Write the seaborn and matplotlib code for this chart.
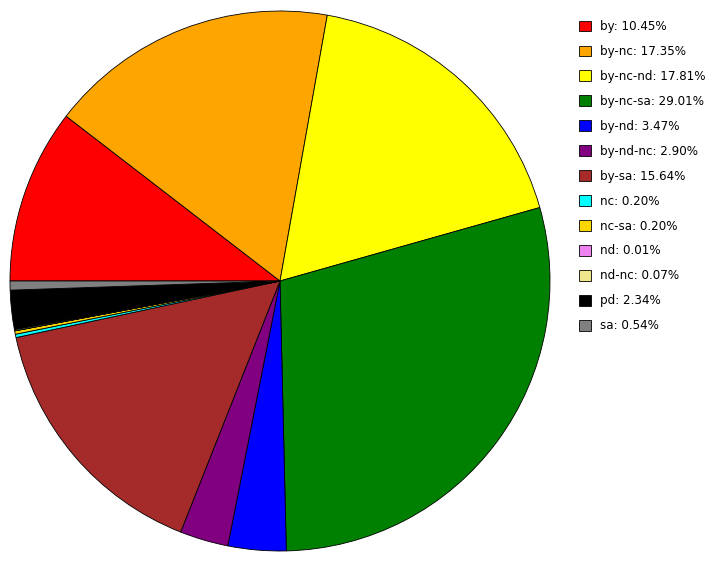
import matplotlib
matplotlib.use("Agg")
import matplotlib.pyplot as plt
from matplotlib.patches import Patch
import seaborn as sns

categories = ["by", "by-nc", "by-nc-nd", "by-nc-sa", "by-nd", "by-nd-nc", "by-sa",
              "nc", "nc-sa", "nd", "nd-nc", "pd", "sa"]
percentages = [10.45, 17.35, 17.81, 29.01, 3.47, 2.90, 15.64,
               0.20, 0.20, 0.01, 0.07, 2.34, 0.54]
colors = ["#FF0000", "#FFA500", "#FFFF00", "#008000", "#0000FF", "#800080", "#A52A2A",
          "#00FFFF", "#FFD700", "#EE82EE", "#F0E68C", "#000000", "#808080"]

sns.set_style("white")
plt.rcParams["font.family"] = ["DejaVu Sans"]
plt.rcParams["text.color"] = "black"

W, H = 716, 562
fig = plt.figure(figsize=(W / 100, H / 100), dpi=100)
cx, cy, r = 280, 281, 270
ax = fig.add_axes([(cx - r) / W, (H - cy - r) / H, 2 * r / W, 2 * r / H])
ax.pie(percentages, colors=colors, startangle=180, counterclock=False,
       wedgeprops=dict(edgecolor="black", linewidth=0.6), radius=1.0)
ax.set_xlim(-1, 1)
ax.set_ylim(-1, 1)
ax.set_aspect("equal")
ax.axis("off")

handles = [Patch(facecolor=c, edgecolor="black", linewidth=0.6) for c in colors]
labels = [f"{c}: {p:.2f}%" for c, p in zip(categories, percentages)]
leg = fig.legend(handles, labels, loc="upper left",
                 bbox_to_anchor=(579 / W, 1 - 20 / H), frameon=False,
                 fontsize=8.6, handlelength=1.0, handleheight=1.0,
                 handletextpad=0.75, labelspacing=1.0, borderpad=0, borderaxespad=0)
for t in leg.get_texts():
    t.set_color("black")

fig.savefig("out.png", dpi=100, facecolor="white")
